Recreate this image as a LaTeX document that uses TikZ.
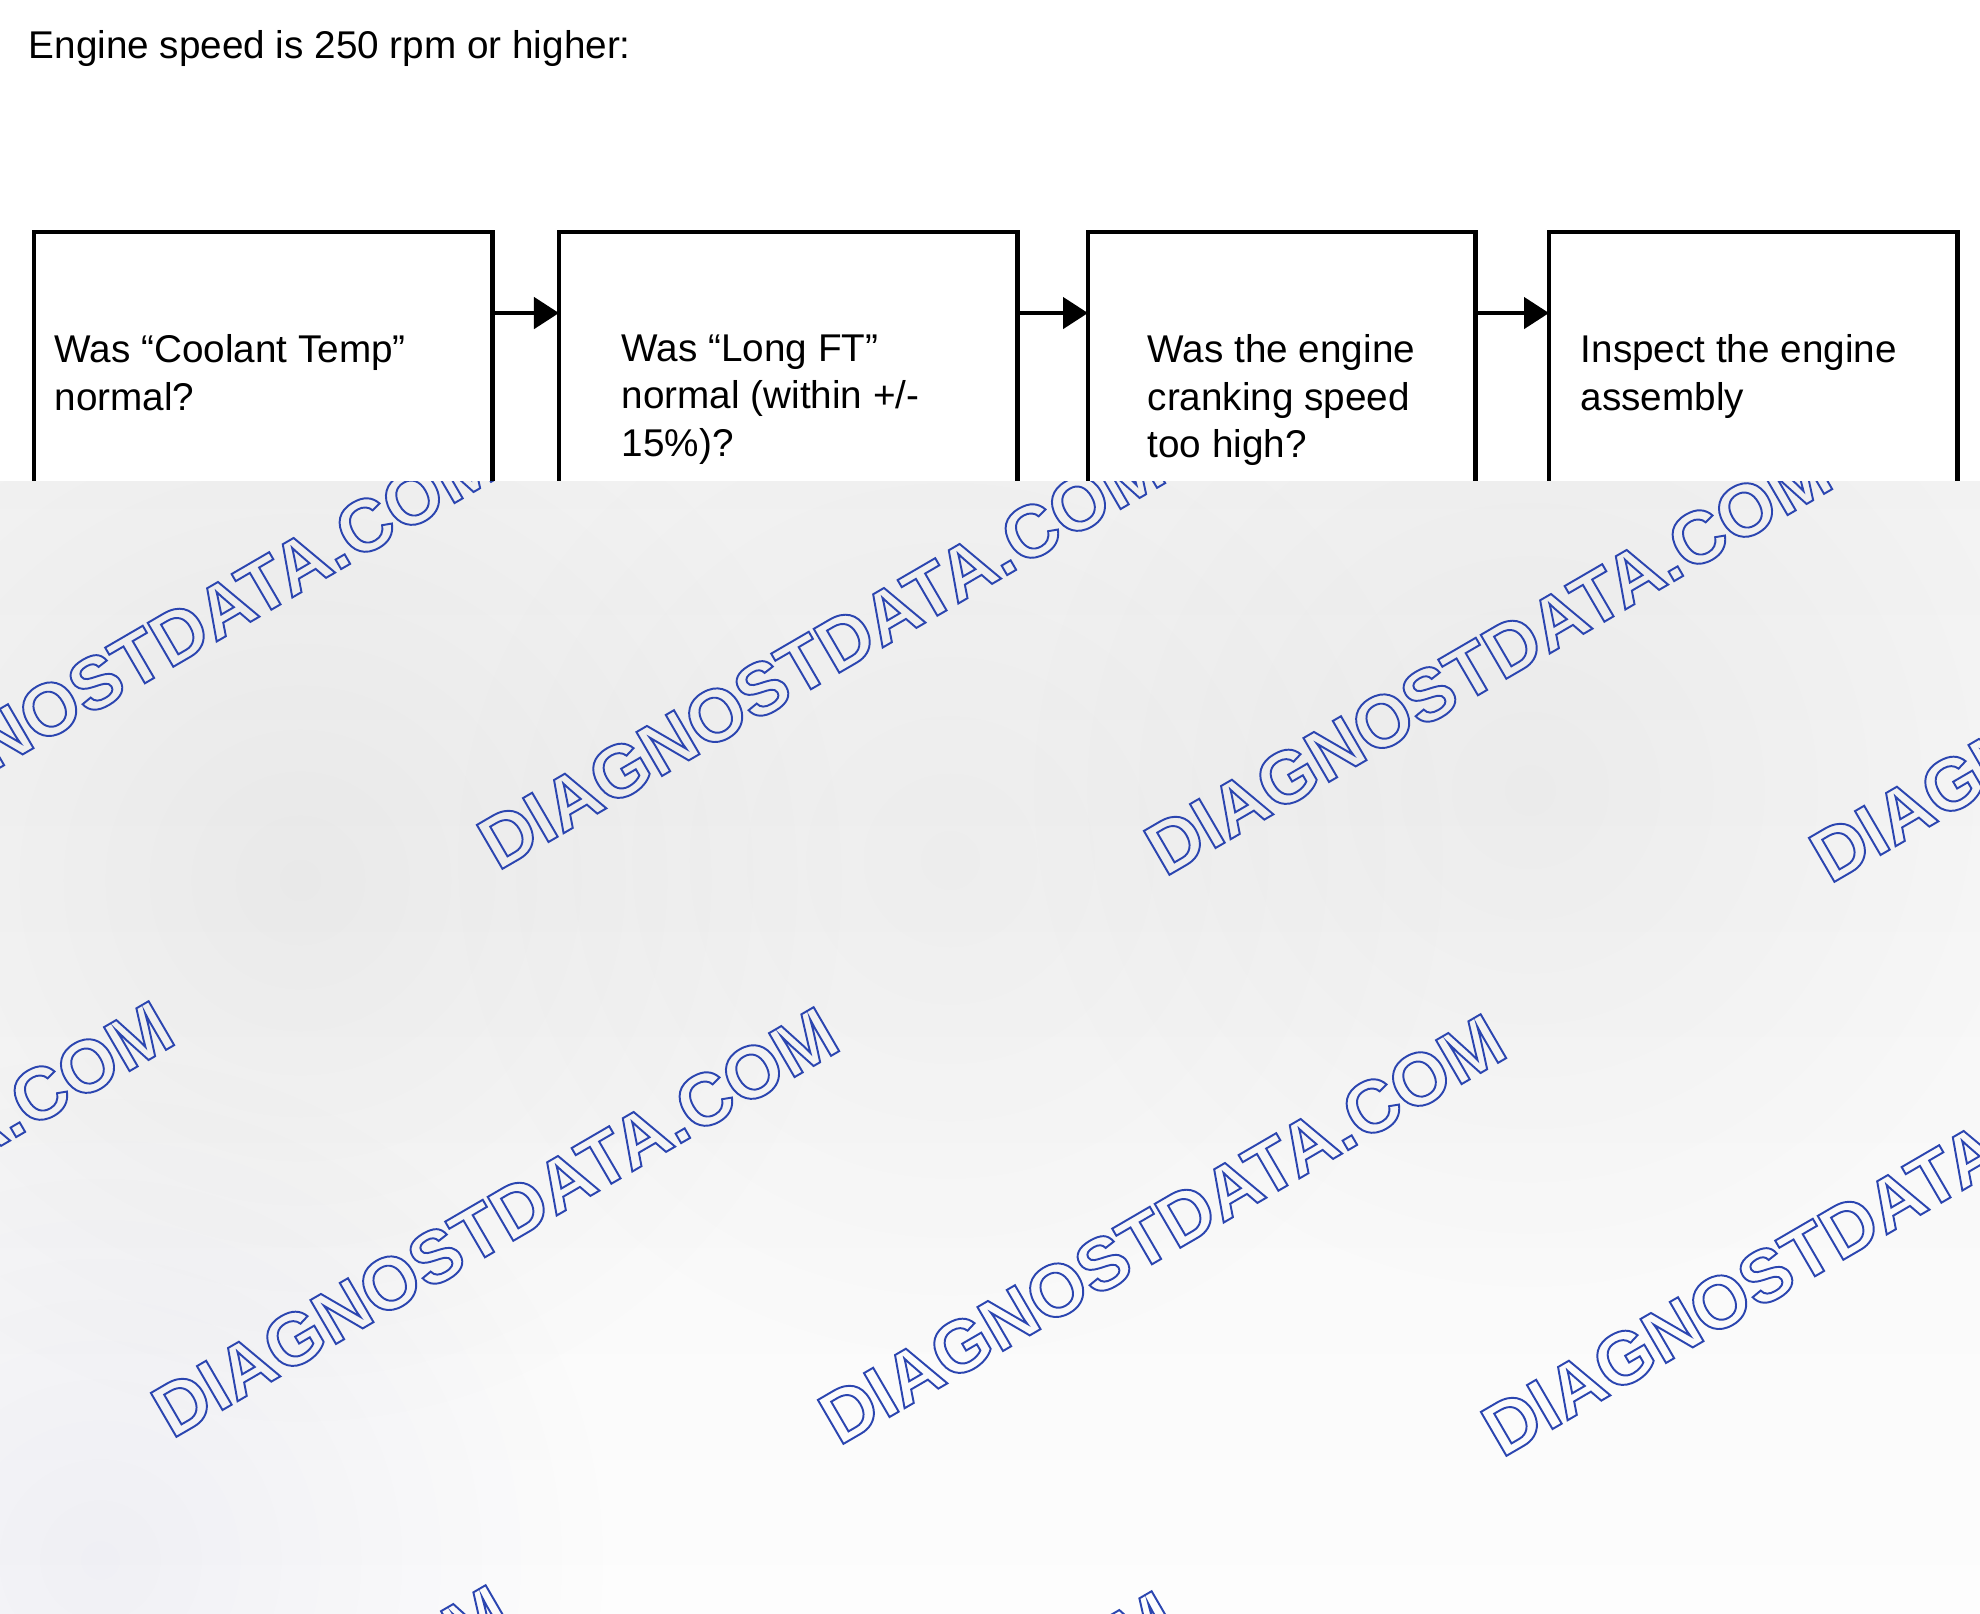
\documentclass[tikz,border=0pt]{standalone}
\usepackage{fontspec}
\setmainfont{Liberation Sans}
\usetikzlibrary{arrows.meta,fadings}

\definecolor{wmblue}{HTML}{2B45B0}
% hollow watermark letters (stroke only)
\newcommand{\wmark}{\special{pdf:literal direct 1 Tr 0.55 w}\textcolor{wmblue}{DIAGNOSTDATA.COM}\special{pdf:literal direct 0 Tr}}
\tikzfading[name=softblob, inner color=transparent!0, outer color=transparent!100]

\begin{document}
\begin{tikzpicture}[x=0.01cm,y=0.01cm]
        \useasboundingbox (0,0) rectangle (1980,-1613);
        \node [anchor=base west, inner sep=0, font=\fontsize{11}{13.5}\selectfont] (title) at (28,-59) {Engine speed is 250 rpm or higher:};
        \begin{scope}[every node/.style={draw, line width=1.3pt, outer sep=0, inner sep=0, anchor=north west, minimum height=3cm}]
                \node [minimum width=4.58cm] (coolant) at (34,-232) {};
                \node [minimum width=4.58cm] (longft) at (559,-232) {};
                \node [minimum width=3.87cm] (cranking) at (1088,-232) {};
                \node [minimum width=4.08cm] (inspect) at (1549,-232) {};
        \end{scope}
        \begin{scope}[every node/.style={anchor=north west, inner sep=0, align=left, font=\fontsize{11}{13.5}\selectfont}]
                \node (coolanttxt) at ([shift={(20,-102)}]coolant.north west) {Was “Coolant Temp”\\normal?};
                \node (longfttxt) at ([shift={(62,-102)}]longft.north west) {Was “Long FT”\\normal (within +/-\\15\%)?};
                \node (crankingtxt) at ([shift={(59,-102)}]cranking.north west) {Was the engine\\cranking speed\\too high?};
                \node (inspecttxt) at ([shift={(31,-102)}]inspect.north west) {Inspect the engine\\assembly};
        \end{scope}
        \begin{scope}[every path/.style={line width=1.3pt, -{Triangle[length=0.25cm,width=0.31cm]}}]
                \path ([yshift=-0.81cm]coolant.north east) edge ([yshift=-0.81cm]longft.north west);
                \path ([yshift=-0.81cm]longft.north east) edge ([yshift=-0.81cm]cranking.north west);
                \path ([yshift=-0.81cm]cranking.north east) edge ([yshift=-0.81cm]inspect.north west);
        \end{scope}
        % grey veil over the lower part
        \begin{scope}
                \clip (0,-482) rectangle (1980,-1613);
                \shade [top color=black!5, bottom color=black!0.8] (0,-482) rectangle (1980,-1613);
                \fill [black, fill opacity=0.05, path fading=softblob] (300,-880) circle (560);
                \fill [black, fill opacity=0.035, path fading=softblob] (950,-860) circle (520);
                \fill [black, fill opacity=0.04, path fading=softblob] (1530,-790) circle (520);
                \fill [black!60!blue, fill opacity=0.05, path fading=softblob] (100,-1560) circle (520);
                \begin{scope}[every node/.style={rotate=30.2, inner sep=0, font=\fontsize{21}{21}\bfseries\selectfont}]
                        \node (wma) at (155,-648) {\wmark};
                        \node (wmb) at (821,-654) {\wmark};
                        \node (wmc) at (1488,-660) {\wmark};
                        \node (wmd) at (2153,-667) {\wmark};
                        \node (wme) at (-170,-1216) {\wmark};
                        \node (wmf) at (495,-1222) {\wmark};
                        \node (wmg) at (1162,-1229) {\wmark};
                        \node (wmh) at (1825,-1241) {\wmark};
                        \node (wmi) at (167,-1800) {\wmark};
                        \node (wmj) at (833,-1806) {\wmark};
                        \node (wmk) at (1496,-1850) {\wmark};
                \end{scope}
        \end{scope}
\end{tikzpicture}
\end{document}
